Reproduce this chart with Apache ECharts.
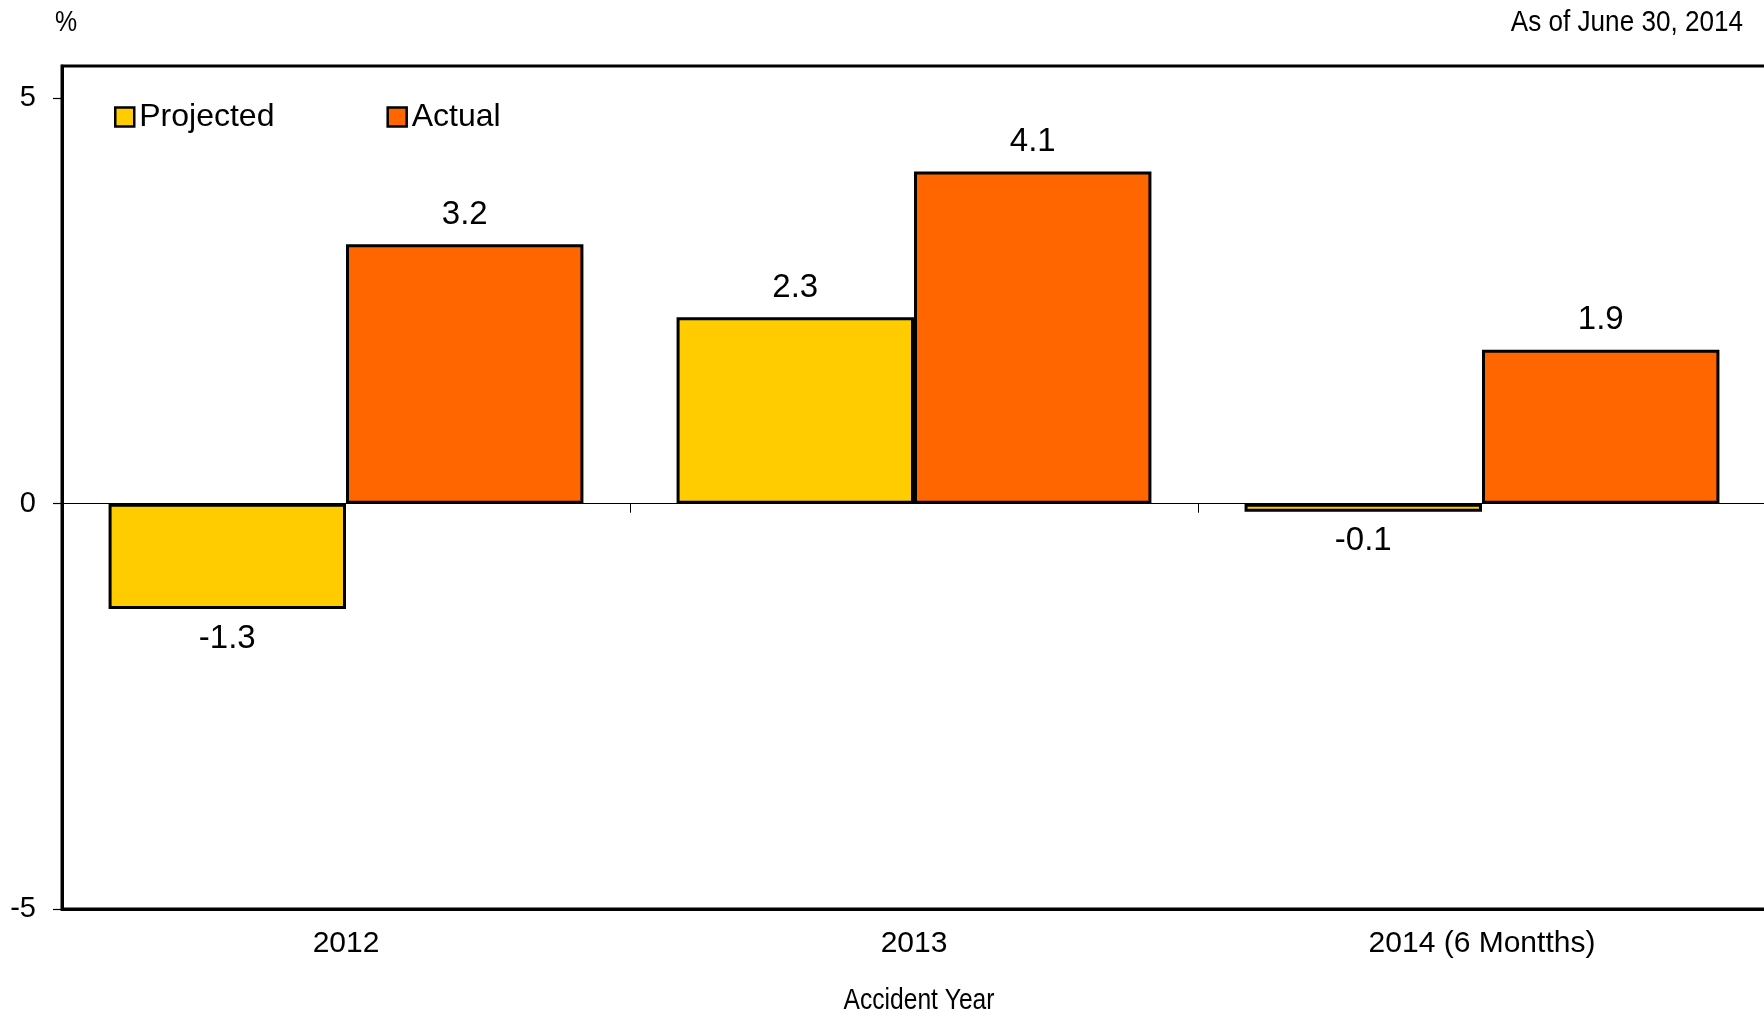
<!DOCTYPE html>
<html>
<head>
<meta charset="utf-8">
<script src="https://cdn.jsdelivr.net/npm/echarts@6/dist/echarts.min.js"></script>
<style>
  html, body { margin: 0; padding: 0; background: #fff; }
  #chart { width: 1764px; height: 1016px; }
</style>
</head>
<body>
<div id="chart"></div>
<script>
// Accident-year loss ratio change, projected vs actual (%)
const categories = ['2012', '2013', '2014 (6 Montths)'];
const projected = [-1.3, 2.3, -0.1];
const actual = [3.2, 4.1, 1.9];
const yTicks = [-5, 0, 5];

const SANS = "'Liberation Sans', Arial, sans-serif";

// negative bars get their value printed underneath, positive above
function withLabels(values) {
  return values.map(v => ({ value: v, label: { position: v < 0 ? 'bottom' : 'top' } }));
}

const barLabel = {
  show: true,
  distance: 13,
  fontFamily: SANS,
  fontSize: 33,
  color: '#000',
  formatter: p => p.value.toFixed(1)
};

// condensed caption text, squeezed horizontally around its anchor point
function caption(text, x, y, align, squeeze) {
  return {
    type: 'text', x: x, y: y, scaleX: squeeze, scaleY: 1,
    style: {
      text: text, fontFamily: SANS, fontSize: 30, fill: '#000',
      align: align, verticalAlign: 'middle'
    }
  };
}

const chart = echarts.init(document.getElementById('chart'), null, { renderer: 'canvas' });

chart.setOption({
  animation: false,
  backgroundColor: '#fff',
  textStyle: { fontFamily: SANS },
  grid: {
    // the frame runs off the right edge of the page
    left: 62, right: -2, top: 66, bottom: 107,
    outerBoundsMode: 'none',
    show: true, borderColor: '#000', borderWidth: 3, backgroundColor: 'transparent'
  },
  legend: {
    left: 114, top: 101, padding: 0,
    itemWidth: 19, itemHeight: 19, itemGap: 112,
    icon: 'rect',
    itemStyle: { borderColor: '#000', borderWidth: 2.5 },
    textStyle: { fontFamily: SANS, fontSize: 32, color: '#000' },
    data: ['Projected', 'Actual']
  },
  xAxis: [
    {
      type: 'category',
      data: categories,
      position: 'bottom',
      axisLine: { onZero: false, lineStyle: { color: '#000', width: 3 } },
      axisTick: { show: false },
      axisLabel: { color: '#000', fontSize: 30, fontFamily: SANS, margin: 20 },
      splitLine: { show: false }
    },
    {
      // zero line with category dividers
      type: 'category',
      data: categories,
      position: 'top',
      axisLine: { onZero: true, lineStyle: { color: '#000', width: 1.2 } },
      axisTick: { show: true, inside: true, length: 9, lineStyle: { color: '#000', width: 1 } },
      axisLabel: { show: false },
      splitLine: { show: false }
    }
  ],
  yAxis: {
    type: 'value',
    min: -5, max: 5.4, interval: 5,
    axisLine: { show: true, lineStyle: { color: '#000', width: 3 } },
    axisTick: { show: true, length: 9, lineStyle: { color: '#000', width: 1.2 }, customValues: yTicks },
    axisLabel: { color: '#000', fontSize: 29, fontFamily: SANS, margin: 26, customValues: yTicks },
    splitLine: { show: false }
  },
  series: [
    {
      name: 'Projected',
      type: 'bar',
      xAxisIndex: 0,
      data: withLabels(projected),
      barGap: '0%',
      barCategoryGap: '16.4%',
      itemStyle: { color: '#FFCC00', borderColor: '#000', borderWidth: 3 },
      label: barLabel
    },
    {
      name: 'Actual',
      type: 'bar',
      xAxisIndex: 0,
      data: withLabels(actual),
      barGap: '0%',
      barCategoryGap: '16.4%',
      itemStyle: { color: '#FF6600', borderColor: '#000', borderWidth: 3 },
      label: barLabel
    }
  ],
  graphic: [
    caption('%', 55, 23, 'left', 0.83),
    caption('As of June 30, 2014', 1743, 23, 'right', 0.87),
    caption('Accident Year', 919, 1001, 'center', 0.82)
  ]
});
</script>
</body>
</html>
